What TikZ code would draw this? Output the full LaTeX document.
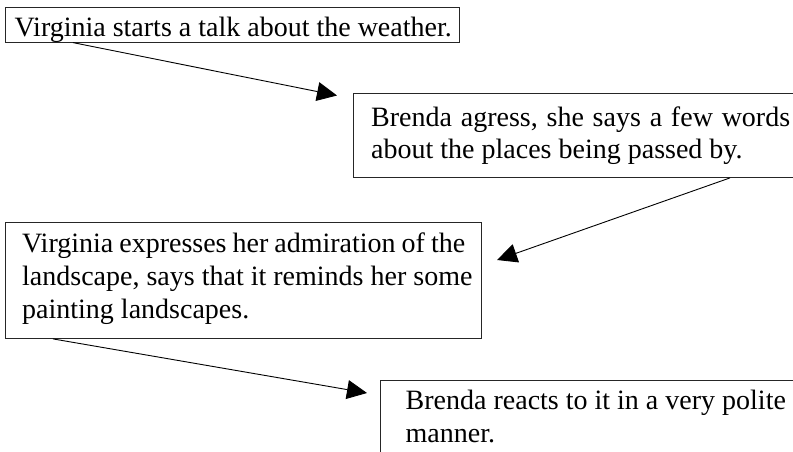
\documentclass[tikz,border=0pt]{standalone}
\usepackage{fontspec}
\setmainfont{Liberation Serif}
\usetikzlibrary{arrows.meta,calc}
\begin{document}
\begin{tikzpicture}[x=1pt,y=-1pt,
  frame/.style={draw=black!85, line width=0.9pt, anchor=north west, inner sep=0pt},
  txt/.style={anchor=north west, inner sep=0pt, align=left,
    font=\fontsize{28}{33}\selectfont},
  arr/.style={draw=black, line width=0.9pt, -{Triangle[length=20pt,width=19pt]}}]
\useasboundingbox (0,0) rectangle (793,451);
\clip (0,0) rectangle (793,451);
% boxes
\node[frame, minimum width=454pt, minimum height=35.2pt] (b1) at (5,6.5) {};
\node[frame, minimum width=470pt, minimum height=84pt] (b2) at (353,93) {};
\node[frame, minimum width=476pt, minimum height=116pt] (b3) at (5,222) {};
\node[frame, minimum width=450pt, minimum height=100pt] (b4) at (380,380) {};
% texts
\node[txt] (t1) at ($(b1.north west)+(9.5,0)$)
  {\rule{0pt}{29.5pt}Virginia starts a talk about the weather.};
\node[txt, font=\fontsize{28}{32.5}\selectfont] (t2) at ($(b2.north west)+(18,0)$)
  {\spaceskip=8.8pt plus 2pt minus 1pt\relax\rule{0pt}{33pt}Brenda agress, she says a few words\\about the places being passed by.};
\node[txt] (t3) at ($(b3.north west)+(17,0)$)
  {\spaceskip=6pt plus 2pt minus 1pt\relax\rule{0pt}{30pt}Virginia expresses her admiration of the\\landscape, says that it reminds her some\\painting landscapes.};
\node[txt] (t4) at ($(b4.north west)+(25.5,0)$)
  {\rule{0pt}{29pt}Brenda reacts to it in a very polite\\manner.};
% arrow ends
\coordinate (e1) at (337,95.5);
\coordinate (e2) at (497,260);
\coordinate (e3) at (367,393);
\draw[arr] ($(b1.south west)+(68,0)$) -- (e1);
\draw[arr] ($(b2.south west)+(377,0)$) -- (e2);
\draw[arr] ($(b3.south west)+(48,0)$) -- (e3);
\end{tikzpicture}
\end{document}
